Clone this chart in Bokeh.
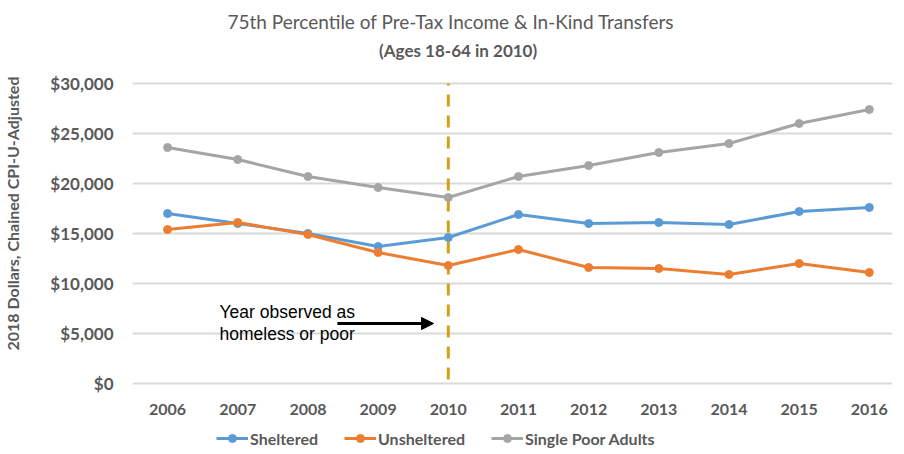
from bokeh.plotting import figure
from bokeh.layouts import column
from bokeh.models import (Range1d, FixedTicker, NumeralTickFormatter, Label, Arrow,
                          NormalHead, Legend, LegendItem)
from bokeh.embed import file_html
from bokeh.resources import INLINE

years = [2006, 2007, 2008, 2009, 2010, 2011, 2012, 2013, 2014, 2015, 2016]
sheltered = [17000, 16000, 15000, 13700, 14600, 16900, 16000, 16100, 15900, 17200, 17600]
unsheltered = [15400, 16100, 14900, 13100, 11800, 13400, 11600, 11500, 10900, 12000, 11100]
single_poor = [23600, 22400, 20700, 19600, 18600, 20700, 21800, 23100, 24000, 26000, 27400]
y_ticks = [0, 5000, 10000, 15000, 20000, 25000, 30000]
observed_year = 2010

title_text = "75th Percentile of Pre-Tax Income & In-Kind Transfers"
subtitle_text = "(Ages 18-64 in 2010)"
y_label = "2018 Dollars, Chained CPI-U-Adjusted"

GRAY = "#595959"
FONT = "Lato"

p = figure(frame_width=760, frame_height=346, output_backend="svg", toolbar_location=None,
           title=title_text,
           x_range=Range1d(2005.5, 2016.33), y_range=Range1d(-300, 34300),
           min_border_left=0, min_border_right=1, min_border_top=0, min_border_bottom=0)
p.title.align = "left"
p.title.offset = 95
p.title.standoff = 15
p.title.text_font = FONT
p.title.text_font_style = "normal"
p.title.text_font_size = "19px"
p.title.text_color = GRAY

p.outline_line_color = None
p.xgrid.grid_line_color = None
p.ygrid.grid_line_color = "#D9D9D9"
p.ygrid.grid_line_width = 2
p.ygrid.ticker = FixedTicker(ticks=y_ticks)

p.yaxis.ticker = FixedTicker(ticks=y_ticks)
p.yaxis.formatter = NumeralTickFormatter(format="$0,0")
p.xaxis.ticker = FixedTicker(ticks=years)
for ax in (p.xaxis, p.yaxis):
    ax.axis_line_color = None
    ax.major_tick_line_color = None
    ax.minor_tick_line_color = None
    ax.major_tick_out = 0
    ax.major_tick_in = 0
    ax.minor_tick_out = 0
    ax.major_label_text_font = FONT
    ax.major_label_text_font_style = "bold"
    ax.major_label_text_font_size = "16px"
    ax.major_label_text_color = GRAY
p.yaxis.major_label_text_font_size = "17px"
p.yaxis.major_label_standoff = 19
p.xaxis.major_label_standoff = 17
p.yaxis.axis_label = y_label
p.yaxis.axis_label_text_font = FONT
p.yaxis.axis_label_text_font_style = "bold"
p.yaxis.axis_label_text_font_size = "16px"
p.yaxis.axis_label_text_color = GRAY
p.yaxis.axis_label_standoff = 25

# vertical dashed marker
p.segment(x0=[observed_year], y0=[30000], x1=[observed_year], y1=[0],
          line_color="#D3A015", line_width=3, line_dash="12 9", line_dash_offset=10)

series = [("Sheltered", sheltered, "#5B9BD5"),
          ("Unsheltered", unsheltered, "#ED7D31"),
          ("Single Poor Adults", single_poor, "#A5A5A5")]
for name, vals, col in series:
    p.line(years, vals, line_color=col, line_width=3)
    p.scatter(years, vals, size=8, fill_color=col, line_color=col)

p.add_layout(Label(x=2010.14, y=33300, text=subtitle_text, text_font=FONT,
                   text_font_style="bold", text_font_size="17px", text_color=GRAY,
                   text_align="center", text_baseline="middle"))
p.add_layout(Label(x=2006.74, y=7200, text="Year observed as", text_font="Liberation Sans",
                   text_font_size="17.5px", text_color="black", text_baseline="middle"))
p.add_layout(Label(x=2006.74, y=5000, text="homeless or poor", text_font="Liberation Sans",
                   text_font_size="17.5px", text_color="black", text_baseline="middle"))
p.add_layout(Arrow(x_start=2008.42, y_start=6000, x_end=2009.79, y_end=6000,
                   line_color="black", line_width=3,
                   end=NormalHead(size=12, fill_color="black", line_color="black")))

# legend strip below the chart (its renderers sit outside its visible range)
pl = figure(width=888, height=32, output_backend="svg", toolbar_location=None,
            x_range=Range1d(0, 1), y_range=Range1d(0, 1),
            x_axis_location=None, y_axis_location=None,
            min_border_left=0, min_border_right=0, min_border_top=0, min_border_bottom=0)
pl.outline_line_color = None
pl.grid.visible = False
items = []
for name, vals, col in series:
    r1 = pl.line(x=[5, 6], y=[5, 6], line_color=col, line_width=3)
    r2 = pl.scatter(x=[5.5], y=[5.5], size=8, fill_color=col, line_color=col)
    items.append(LegendItem(label=name, renderers=[r1, r2]))

legend = Legend(items=items, orientation="horizontal", location=(84, 1),
                label_text_font=FONT, label_text_font_style="bold",
                label_text_font_size="16px", label_text_color=GRAY,
                glyph_width=32, label_standoff=2, spacing=26, border_line_color=None,
                background_fill_alpha=0, padding=2, margin=0)
pl.add_layout(legend, "center")

layout = column(p, pl, spacing=0)
open("out.html", "w").write(file_html(layout, INLINE))
